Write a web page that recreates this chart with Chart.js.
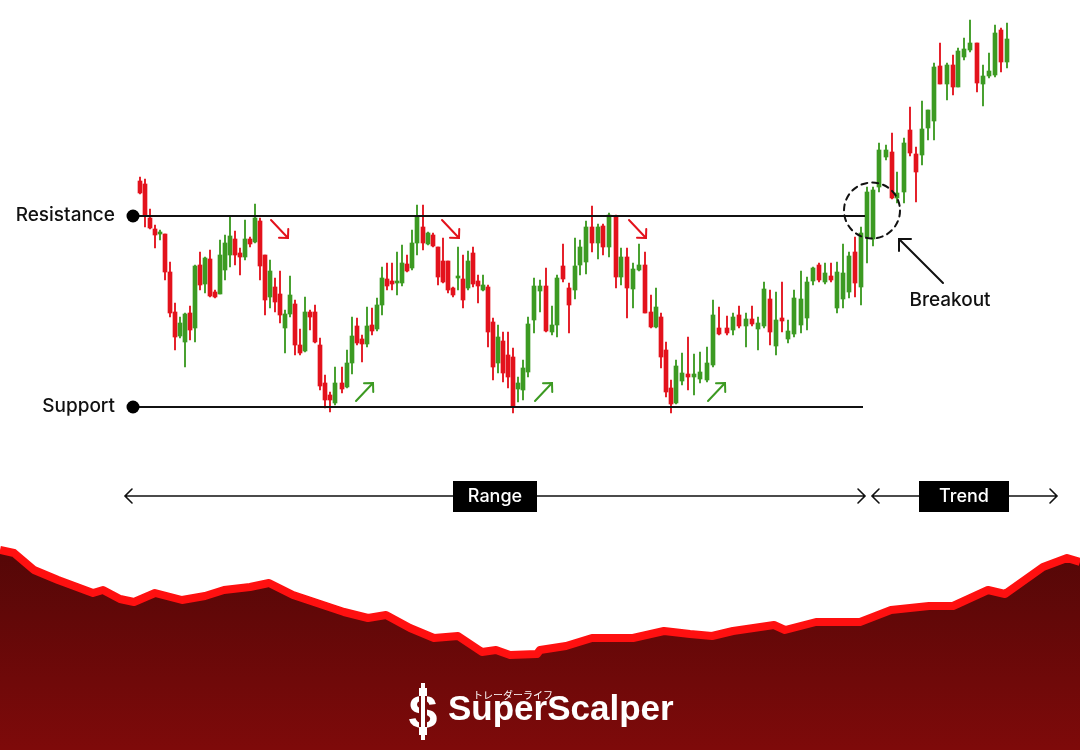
<!DOCTYPE html>
<html>
<head>
<meta charset="utf-8">
<script src="https://cdn.jsdelivr.net/npm/chart.js@4.4.1/dist/chart.umd.min.js"></script>
<style>
  html, body { margin: 0; padding: 0; background: #fff; }
  #wrap { width: 1080px; height: 750px; }
</style>
</head>
<body>
<div id="wrap"><canvas id="chart" width="1080" height="750"></canvas></div>
<script>
// candle times (minutes since first candle)
const times = [
  0,5,10,15,20,25,30,35,40,45,50,55,60,65,70,75,80,85,90,95,100,105,110,115,120,125,130,135,140,145,150,155,160,165,170,175,180,185,190,195,
  202,207,212,217,222,227,232,237,242,247,252,257,262,267,272,277,
  283,288,293,298,303,308,313,318,323,328,333,338,343,348,353,358,363,368,373,378,383,
  388,394,
  400,406,412,417,423,429,435,440,446,452,458,463,469,476,481,487,493,499,505,511,516,521,526,531,536,542,548,554,560,567,573,
  579,587,593,599,606,612,618,624,630,636,642,648,654,661,667,673,679,685,691,697,703,709,715,721,
  727,733,739,746,752,757,764,770,776,782,788,794,800,807,813,818,824,830,837,843,849,855,861,867
];
const opens = [
  319,316,282,271,266,266,228,188,164,158, 187,172,235,216,241,208,206,230,245,261,
  247,243,261,258,279,245,203,213,206,172, 186,196,155,149,188,188,155,117,105,97,
  117,113,137,174,161,156,175,171,195,221, 219,217,217,236,232,257,273,256,265,253,
  239,239,212,222,221,212,247,219,210,213, 178,137,159,145,143,111,110,128,180,209,
  214,168,175,234,212,210,235,238,273,257, 274,253,283,223,243,211,230,235,188,173,
  183,150,112,97,119,126,123,121,120,135, 172,172,170,185,174,181,171,174,201,154,
  182,161,166,175,182,219,235,218,224,192, 201,208,248,213,263,261,313,343,348,302,
  308,370,346,345,372,379,434,416,435,413, 443,450,457,416,424,425,470,438
];
const highs = [
  323,321,291,275,270,266,238,197,183,187, 194,235,248,243,250,210,260,265,283,269,
  252,280,263,296,282,245,240,222,229,190, 224,200,171,203,190,195,162,125,108,133,
  133,150,183,182,165,193,192,202,233,237, 237,248,255,245,270,295,295,268,267,253,
  262,239,213,253,245,249,253,225,225,215, 182,175,168,168,152,123,140,183,222,220,
  232,194,225,256,217,262,260,279,294,276, 276,287,285,252,252,237,256,248,205,212,
  187,158,120,140,147,163,146,148,153,200, 193,184,187,194,187,194,183,218,210,208,
  218,180,210,229,223,233,237,237,237,238, 256,248,263,273,313,313,357,355,367,328,
  362,393,353,399,390,437,457,437,445,452, 462,480,457,435,447,475,472,477
];
const lows = [
  306,273,271,252,260,220,183,150,162,133, 160,158,210,207,203,202,206,220,233,235,
  225,240,253,257,220,185,192,188,177,147, 183,145,145,148,170,157,110,92,88,95,
  107,112,126,155,138,153,165,169,185,210, 210,205,214,228,230,245,250,255,253,215,
  217,207,203,210,192,210,213,197,209,153, 120,127,118,112,87,98,100,123,167,188,
  168,165,163,218,167,201,225,226,248,241, 245,243,212,215,182,192,229,187,172,172,
  132,103,87,96,115,110,105,117,118,133, 165,165,165,172,153,174,150,172,155,145,
  168,157,163,167,170,215,218,216,218,187, 192,202,203,195,237,254,308,340,301,297,
  297,344,298,335,360,360,416,400,405,413, 440,448,408,394,422,423,428,432
];
const closes = [
  307,285,272,265,268,228,187,163,177,186, 170,234,215,242,204,203,245,257,264,245,
  243,261,256,282,234,200,229,198,185,186, 205,155,147,188,183,158,114,100,100,117,
  111,137,164,157,156,174,169,195,222,214, 216,219,237,229,257,283,257,267,254,223,
  218,210,205,224,200,239,216,214,215,168, 133,163,127,123,93,117,132,176,214,214,
  169,175,222,221,195,234,253,273,257,273, 253,285,223,243,212,231,235,187,173,193,
  143,108,96,134,127,123,126,128,137,185, 166,167,183,174,181,176,177,211,168,180,
  179,169,202,201,218,232,220,227,220,228, 227,244,217,267,308,310,350,350,302,307,
  357,347,328,371,390,433,416,435,413,449, 451,457,417,424,429,467,438,461
];

const resistanceLevel = 284;
const supportLevel = 93;
const levelStart = -7;
const levelEnd = 725;

// decorative ridge at the bottom (distance, height)
const ridgeX = [0,14,34,58,93,103,120,134,155,182,205,224,250,269,293,320,344,368,386,410,434,458,482,496,510,537,
  540,566,592,633,664,690,712,733,774,785,816,860,891,929,953,988,1005,1043,1067,1080];
const ridgeY = [200,197,180,170,157,160,151,148,157,150,154,160,163,167,155,146,138,132,135,122,112,114,98,100,95,96,
  100,104,112,112,119,116,114,119,125,120,128,128,140,144,144,160,156,183,192,188];

const upColor = '#3c9a22';
const downColor = '#e3121c';
const candleColors = opens.map((o, i) => closes[i] >= o ? upColor : downColor);

const overlay = {
  id: 'overlay',
  afterDraw(chart) {
    const ctx = chart.ctx;
    const x = v => chart.scales.x.getPixelForValue(v);
    const y = v => chart.scales.y.getPixelForValue(v);

    function arrow(x1, y1, x2, y2, head, color, width) {
      ctx.strokeStyle = color;
      ctx.lineWidth = width;
      ctx.lineCap = 'round';
      ctx.beginPath();
      ctx.moveTo(x1, y1);
      ctx.lineTo(x2, y2);
      ctx.stroke();
      const a = Math.atan2(y2 - y1, x2 - x1);
      ctx.beginPath();
      ctx.moveTo(x2 - head * Math.cos(a - Math.PI / 4), y2 - head * Math.sin(a - Math.PI / 4));
      ctx.lineTo(x2, y2);
      ctx.lineTo(x2 - head * Math.cos(a + Math.PI / 4), y2 - head * Math.sin(a + Math.PI / 4));
      ctx.stroke();
    }

    ctx.save();

    // level labels
    ctx.fillStyle = '#111';
    ctx.font = '500 19px Inter';
    ctx.textAlign = 'right';
    ctx.textBaseline = 'middle';
    ctx.fillText('Resistance', x(levelStart) - 18, y(resistanceLevel) - 1);
    ctx.fillText('Support', x(levelStart) - 18, y(supportLevel) - 1);

    // swing arrows
    [148, 319, 506].forEach(t => {
      const tx = x(t), ty = y(262);
      arrow(tx - 17, ty - 18, tx, ty, 9, downColor, 2);
    });
    [233, 412, 585].forEach(t => {
      const tx = x(t), ty = y(117);
      arrow(tx - 17, ty + 18, tx, ty, 9, upColor, 2);
    });

    // breakout circle + arrow
    ctx.setLineDash([6, 5]);
    ctx.strokeStyle = '#111';
    ctx.lineWidth = 2;
    ctx.beginPath();
    ctx.arc(x(732), y(289.5), 28, 0, Math.PI * 2);
    ctx.stroke();
    ctx.setLineDash([]);
    const bx = x(759), by = y(261);
    arrow(bx + 44, by + 44, bx, by, 12, '#111', 2);
    ctx.fillStyle = '#111';
    ctx.font = '500 19px Inter';
    ctx.textAlign = 'center';
    ctx.textBaseline = 'alphabetic';
    ctx.fillText('Breakout', x(810), y(194));

    // range / trend spans
    const ry = y(4);
    function span(t1, t2, label, tc, w) {
      const x1 = x(t1), x2 = x(t2);
      ctx.strokeStyle = '#111';
      ctx.lineWidth = 1.6;
      ctx.beginPath();
      ctx.moveTo(x1, ry); ctx.lineTo(x2, ry);
      ctx.moveTo(x1 + 7, ry - 7); ctx.lineTo(x1, ry); ctx.lineTo(x1 + 7, ry + 7);
      ctx.moveTo(x2 - 7, ry - 7); ctx.lineTo(x2, ry); ctx.lineTo(x2 - 7, ry + 7);
      ctx.stroke();
      const cx = x(tc);
      ctx.fillStyle = '#000';
      ctx.fillRect(cx - w / 2, ry - 15, w, 31);
      ctx.fillStyle = '#fff';
      ctx.font = '500 18px Inter';
      ctx.textAlign = 'center';
      ctx.textBaseline = 'middle';
      ctx.fillText(label, cx, ry + 1);
    }
    span(-15, 725, 'Range', 355, 84);
    span(732, 917, 'Trend', 824, 90);

    // logo
    const lx = chart.width / 2;
    ctx.fillStyle = '#fff';
    ctx.textBaseline = 'alphabetic';
    ctx.textAlign = 'left';
    ctx.font = 'bold 35px "Liberation Sans"';
    ctx.fillText('SuperScalper', lx - 92, 720);
    ctx.font = '10px "Noto Sans CJK JP"';
    ctx.fillText('トレーダーライフ', lx - 67, 699);
    ctx.font = 'bold 46px "Liberation Sans"';
    ctx.textAlign = 'center';
    ctx.fillText('S', lx - 117, 728);
    ctx.fillStyle = '#7a0b0b';
    ctx.fillRect(lx - 121, 690, 8, 44);
    ctx.fillStyle = '#fff';
    ctx.fillRect(lx - 119, 683, 4, 57);
    ctx.fillRect(lx - 121, 688, 8, 8);
    ctx.fillRect(lx - 121, 727, 8, 8);

    ctx.restore();
  }
};

new Chart(document.getElementById('chart'), {
  type: 'bar',
  data: {
    datasets: [
      {
        type: 'line',
        label: 'Resistance',
        data: [{ x: levelStart, y: resistanceLevel }, { x: levelEnd, y: resistanceLevel }],
        borderColor: '#111',
        borderWidth: 2,
        pointRadius: [6.5, 0],
        pointBackgroundColor: '#000',
        pointBorderWidth: 0,
        order: -1
      },
      {
        type: 'line',
        label: 'Support',
        data: [{ x: levelStart, y: supportLevel }, { x: levelEnd - 2, y: supportLevel }],
        borderColor: '#111',
        borderWidth: 2,
        pointRadius: [6.5, 0],
        pointBackgroundColor: '#000',
        pointBorderWidth: 0,
        order: -1
      },
      {
        label: 'Body',
        data: times.map((t, i) => ({ x: t, y: [opens[i], closes[i]] })),
        backgroundColor: candleColors,
        barThickness: 4,
        minBarLength: 1.5,
        grouped: false,
        order: 0
      },
      {
        label: 'Wick',
        data: times.map((t, i) => ({ x: t, y: [lows[i], highs[i]] })),
        backgroundColor: candleColors,
        barThickness: 1.2,
        grouped: false,
        order: 1
      },
      {
        type: 'line',
        label: 'Ridge',
        xAxisID: 'xm',
        yAxisID: 'ym',
        data: ridgeX.map((v, i) => ({ x: v, y: ridgeY[i] })),
        borderColor: '#ff1010',
        borderWidth: 8,
        borderJoinStyle: 'round',
        pointRadius: 0,
        tension: 0,
        fill: 'origin',
        backgroundColor: (context) => {
          const { ctx, chartArea } = context.chart;
          if (!chartArea) return '#650808';
          const g = ctx.createLinearGradient(0, 550, 0, 750);
          g.addColorStop(0, '#540707');
          g.addColorStop(1, '#7e0a0a');
          return g;
        },
        order: 3
      }
    ]
  },
  options: {
    responsive: false,
    animation: false,
    devicePixelRatio: 1,
    layout: { padding: 0, autoPadding: false },
    plugins: { legend: { display: false }, tooltip: { enabled: false } },
    scales: {
      x: { type: 'linear', min: -140, max: 940, offset: false, display: false },
      y: { type: 'linear', min: -250, max: 500, display: false },
      xm: { type: 'linear', min: 0, max: 1080, offset: false, display: false },
      ym: { type: 'linear', min: 0, max: 750, display: false }
    }
  },
  plugins: [overlay]
});
</script>
</body>
</html>
